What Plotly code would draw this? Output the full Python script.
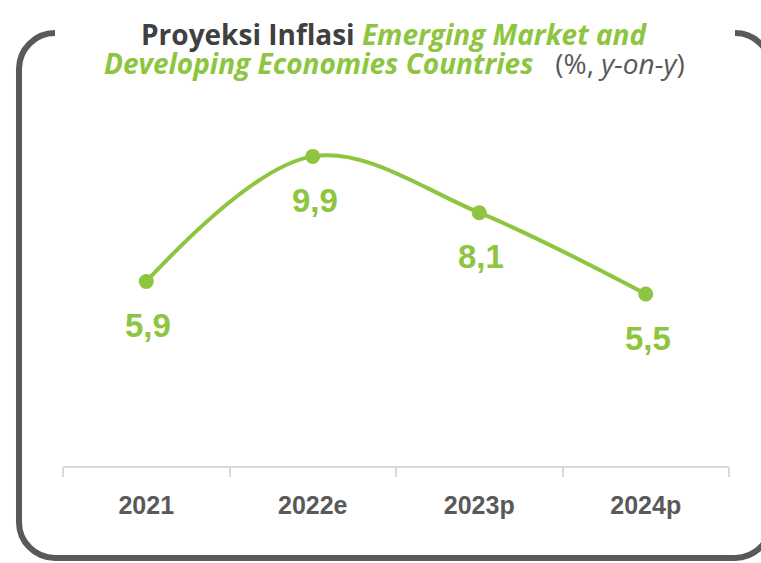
import plotly.graph_objects as go

categories = ["2021", "2022e", "2023p", "2024p"]
inflation = [5.9, 9.9, 8.1, 5.5]
value_labels = ["5,9", "9,9", "8,1", "5,5"]

GREEN = "#8DC540"
DARK = "#404040"
GRAY = "#595959"

W, H = 761, 563
L, R, T, B = 63, 32, 122, 97
PW, PH = W - L - R, H - T - B


def px(X):
    return (X - L) / PW


def py(Y):
    return (H - B - Y) / PH


fig = go.Figure()
fig.add_trace(go.Scatter(
    x=categories, y=inflation, mode="lines+markers",
    line=dict(color=GREEN, width=4, shape="spline", smoothing=1.0),
    marker=dict(color=GREEN, size=15),
    hoverinfo="skip", showlegend=False,
))

for i, (v, t) in enumerate(zip(inflation, value_labels)):
    fig.add_annotation(x=i, y=v, xref="x", yref="y", text=f"<b>{t}</b>", showarrow=False,
                       yshift=-44, xshift=2, font=dict(family="Liberation Sans", size=33, color=GREEN))

# rounded frame with open top
x0, x1, y0, y1, r = 19, 771, 33, 558, 36
k = 0.5523 * r
pts = [
    ("M", [(x0 + r, y0)]),
    ("C", [(x0 + r - k, y0), (x0, y0 + r - k), (x0, y0 + r)]),
    ("L", [(x0, y1 - r)]),
    ("C", [(x0, y1 - r + k), (x0 + r - k, y1), (x0 + r, y1)]),
    ("L", [(x1 - r, y1)]),
    ("C", [(x1 - r + k, y1), (x1, y1 - r + k), (x1, y1 - r)]),
    ("L", [(x1, y0 + r)]),
    ("C", [(x1, y0 + r - k), (x1 - r + k, y0), (x1 - r, y0)]),
]
path = " ".join(cmd + " " + " ".join(f"{px(a):.5f},{py(b):.5f}" for a, b in p) for cmd, p in pts)
fig.add_shape(type="path", path=path, xref="paper", yref="paper",
              line=dict(color=GRAY, width=6), fillcolor="rgba(0,0,0,0)", layer="below")

title_line1 = (
    f"<b><span style='color:{DARK}'>Proyeksi Inflasi </span>"
    f"<i><span style='color:{GREEN}'>Emerging Market and</span></i></b>"
)
title_line2 = (
    f"<b><i><span style='color:{GREEN}'>Developing Economies Countries</span></i></b>"
    f"<span style='color:{GRAY}'>   (%, <i>y-on-y</i>)</span>"
)
for txt, yc in [(title_line1, 34), (title_line2, 63)]:
    fig.add_annotation(text=txt, x=px(394), y=py(yc), xref="paper", yref="paper",
                       xanchor="center", yanchor="middle", showarrow=False,
                       font=dict(family="Open Sans", size=28, color=DARK))

fig.update_layout(
    width=W, height=H,
    margin=dict(l=L, r=R, t=T, b=B),
    paper_bgcolor="white", plot_bgcolor="white",
    xaxis=dict(
        type="category", range=[-0.5, 3.5], showgrid=False, zeroline=False,
        showline=True, linecolor="#D9D9D9", linewidth=2,
        ticks="outside", tickson="boundaries", ticklen=9, tickcolor="#D9D9D9", tickwidth=2,
        tickfont=dict(family="Liberation Sans", size=25, color=GRAY),
        tickprefix="<b>", ticksuffix="</b>", ticklabelstandoff=16,
    ),
    yaxis=dict(range=[0, 11], visible=False, fixedrange=True),
)

fig.write_html("out.html", config={"displayModeBar": False},
               post_script="document.body.style.margin='0';document.body.style.overflow='hidden';")
